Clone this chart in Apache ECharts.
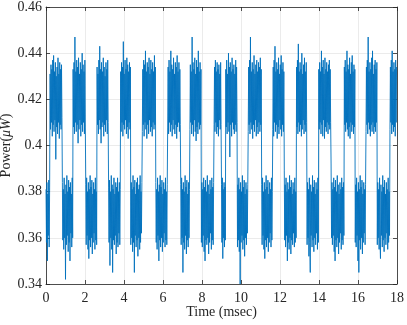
<!DOCTYPE html>
<html>
<head>
<meta charset="utf-8">
<script src="https://cdn.jsdelivr.net/npm/echarts@6/dist/echarts.min.js"></script>
<style>
  html, body { margin: 0; padding: 0; background: #fff; }
  #chart { width: 407px; height: 325px; }
</style>
</head>
<body>
<div id="chart"></div>
<script>
// block boundaries (msec): low / high levels alternate, starting low
const edges = [0, 0.21, 0.84, 1.39, 2.04, 2.62, 3.21, 3.83, 4.35, 4.94, 5.63, 6.24, 6.91, 7.38, 7.97,
  8.62, 9.00, 9.22, 9.82, 10.37, 11.06, 11.63, 12.22, 12.85, 13.39, 13.99, 14.62, 15.30, 15.86,
  16.41, 16.99, 17.64, 18];

const blocks = [
  [0.381, 0.358, 0.384, 0.350, 0.379, 0.361, 0.385, 0.356, 0.382],
  [0.431, 0.407, 0.435, 0.410, 0.433, 0.404, 0.437, 0.409, 0.439, 0.406, 0.432, 0.411, 0.436, 0.394, 0.430, 0.408, 0.434, 0.405, 0.438, 0.410, 0.431, 0.403, 0.436, 0.409, 0.433, 0.407, 0.435, 0.412],
  [0.384, 0.359, 0.381, 0.355, 0.386, 0.360, 0.379, 0.342, 0.383, 0.357, 0.387, 0.361, 0.380, 0.354, 0.385, 0.358, 0.382, 0.350, 0.384, 0.362, 0.379, 0.356, 0.386, 0.360],
  [0.433, 0.408, 0.436, 0.405, 0.447, 0.410, 0.432, 0.406, 0.437, 0.409, 0.434, 0.401, 0.438, 0.407, 0.431, 0.411, 0.436, 0.404, 0.433, 0.409, 0.440, 0.406, 0.435, 0.410, 0.432, 0.405, 0.437, 0.408],
  [0.383, 0.357, 0.386, 0.361, 0.380, 0.355, 0.384, 0.351, 0.381, 0.359, 0.387, 0.356, 0.382, 0.360, 0.385, 0.353, 0.379, 0.358, 0.384, 0.362, 0.381, 0.355, 0.386, 0.359, 0.380, 0.357],
  [0.434, 0.409, 0.431, 0.405, 0.437, 0.411, 0.443, 0.407, 0.433, 0.401, 0.436, 0.408, 0.432, 0.410, 0.438, 0.404, 0.434, 0.409, 0.430, 0.406, 0.436, 0.411, 0.433, 0.405, 0.437, 0.410],
  [0.382, 0.358, 0.385, 0.348, 0.380, 0.360, 0.387, 0.355, 0.383, 0.345, 0.381, 0.359, 0.386, 0.357, 0.379, 0.361, 0.384, 0.353, 0.382, 0.358, 0.386, 0.356, 0.380, 0.362, 0.384, 0.357, 0.381],
  [0.432, 0.406, 0.436, 0.410, 0.434, 0.404, 0.445, 0.409, 0.431, 0.407, 0.437, 0.411, 0.433, 0.405, 0.438, 0.408, 0.435, 0.403, 0.432, 0.410, 0.436, 0.407, 0.434],
  [0.357, 0.384, 0.360, 0.381, 0.354, 0.387, 0.358, 0.382, 0.345, 0.385, 0.361, 0.379, 0.356, 0.384, 0.359, 0.386, 0.352, 0.381, 0.360, 0.383, 0.355, 0.387, 0.358, 0.380, 0.362, 0.384],
  [0.406, 0.433, 0.409, 0.437, 0.404, 0.435, 0.410, 0.441, 0.407, 0.432, 0.403, 0.436, 0.409, 0.434, 0.405, 0.438, 0.411, 0.431, 0.406, 0.437, 0.408, 0.433, 0.404, 0.436, 0.410, 0.432, 0.407, 0.439, 0.409, 0.434],
  [0.384, 0.358, 0.381, 0.355, 0.386, 0.361, 0.380, 0.350, 0.383, 0.359, 0.387, 0.356, 0.382, 0.360, 0.385, 0.354, 0.379, 0.358, 0.384, 0.362, 0.381, 0.356, 0.386, 0.359, 0.380, 0.357, 0.383],
  [0.408, 0.434, 0.405, 0.437, 0.410, 0.432, 0.406, 0.441, 0.409, 0.435, 0.404, 0.433, 0.411, 0.438, 0.407, 0.431, 0.405, 0.436, 0.409, 0.434, 0.403, 0.439, 0.408, 0.432, 0.410, 0.436, 0.406, 0.433, 0.409],
  [0.383, 0.357, 0.386, 0.360, 0.381, 0.345, 0.384, 0.358, 0.380, 0.355, 0.387, 0.361, 0.382, 0.353, 0.385, 0.359, 0.379, 0.356, 0.384, 0.360, 0.381],
  [0.407, 0.435, 0.410, 0.432, 0.405, 0.447, 0.409, 0.436, 0.404, 0.433, 0.411, 0.438, 0.406, 0.431, 0.402, 0.437, 0.408, 0.434, 0.405, 0.441, 0.410, 0.432, 0.407, 0.436, 0.409, 0.433],
  [0.358, 0.384, 0.356, 0.381, 0.361, 0.386, 0.354, 0.382, 0.350, 0.385, 0.359, 0.380, 0.357, 0.387, 0.360, 0.383, 0.353, 0.379, 0.358, 0.385, 0.362, 0.381, 0.355, 0.386, 0.359, 0.382, 0.357, 0.384],
  [0.409, 0.434, 0.406, 0.437, 0.410, 0.432, 0.405, 0.436, 0.408, 0.433, 0.404, 0.435, 0.411, 0.431, 0.407, 0.436, 0.409],
  [0.383, 0.358, 0.386, 0.351, 0.381, 0.360, 0.384, 0.356, 0.382, 0.359],
  [0.433, 0.408, 0.437, 0.405, 0.431, 0.410, 0.440, 0.406, 0.434, 0.395, 0.436, 0.409, 0.432, 0.404, 0.438, 0.410, 0.433, 0.407, 0.435, 0.405, 0.431, 0.409, 0.437, 0.406, 0.434, 0.410],
  [0.356, 0.383, 0.359, 0.386, 0.354, 0.381, 0.340, 0.384, 0.358, 0.380, 0.361, 0.387, 0.355, 0.382, 0.359, 0.385, 0.352, 0.379, 0.360, 0.384, 0.357, 0.381, 0.362, 0.383],
  [0.406, 0.434, 0.409, 0.437, 0.405, 0.447, 0.410, 0.432, 0.407, 0.436, 0.403, 0.433, 0.409, 0.439, 0.406, 0.431, 0.411, 0.435, 0.404, 0.437, 0.408, 0.432, 0.405, 0.436, 0.410, 0.434, 0.406, 0.438, 0.409, 0.433],
  [0.383, 0.357, 0.386, 0.361, 0.380, 0.355, 0.384, 0.351, 0.381, 0.359, 0.387, 0.356, 0.382, 0.360, 0.385, 0.354, 0.379, 0.358, 0.384, 0.362, 0.381, 0.356, 0.386, 0.359, 0.380],
  [0.407, 0.434, 0.404, 0.437, 0.410, 0.443, 0.406, 0.432, 0.409, 0.436, 0.403, 0.433, 0.408, 0.438, 0.405, 0.431, 0.411, 0.435, 0.407, 0.439, 0.404, 0.433, 0.409, 0.436, 0.406, 0.432],
  [0.389, 0.359, 0.383, 0.356, 0.386, 0.361, 0.380, 0.350, 0.384, 0.358, 0.381, 0.355, 0.387, 0.360, 0.382, 0.353, 0.385, 0.359, 0.379, 0.357, 0.384, 0.362, 0.381, 0.356, 0.386, 0.358, 0.380, 0.360],
  [0.434, 0.408, 0.437, 0.405, 0.444, 0.410, 0.432, 0.406, 0.436, 0.409, 0.433, 0.404, 0.440, 0.407, 0.431, 0.411, 0.435, 0.405, 0.438, 0.409, 0.432, 0.406, 0.436, 0.410],
  [0.357, 0.384, 0.360, 0.381, 0.352, 0.386, 0.358, 0.345, 0.383, 0.361, 0.380, 0.356, 0.387, 0.359, 0.382, 0.354, 0.385, 0.360, 0.379, 0.357, 0.384, 0.362, 0.381, 0.355, 0.386, 0.358],
  [0.433, 0.407, 0.436, 0.410, 0.432, 0.405, 0.441, 0.409, 0.434, 0.404, 0.437, 0.411, 0.431, 0.403, 0.438, 0.408, 0.433, 0.406, 0.436, 0.410, 0.432, 0.405, 0.435, 0.409, 0.437, 0.407, 0.433, 0.410],
  [0.392, 0.360, 0.384, 0.357, 0.381, 0.361, 0.386, 0.354, 0.382, 0.350, 0.385, 0.359, 0.380, 0.356, 0.387, 0.360, 0.383, 0.353, 0.379, 0.358, 0.384, 0.362, 0.381, 0.355, 0.386, 0.359, 0.382, 0.357, 0.384, 0.361],
  [0.434, 0.409, 0.437, 0.406, 0.432, 0.410, 0.441, 0.407, 0.435, 0.404, 0.433, 0.408, 0.438, 0.403, 0.431, 0.410, 0.436, 0.406, 0.439, 0.409, 0.432, 0.405, 0.435, 0.408, 0.433],
  [0.358, 0.383, 0.356, 0.386, 0.361, 0.380, 0.350, 0.384, 0.345, 0.381, 0.359, 0.387, 0.355, 0.382, 0.360, 0.385, 0.353, 0.379, 0.358, 0.384, 0.362, 0.381, 0.357, 0.383],
  [0.406, 0.434, 0.409, 0.437, 0.405, 0.447, 0.410, 0.432, 0.407, 0.436, 0.404, 0.433, 0.409, 0.438, 0.406, 0.441, 0.410, 0.431, 0.405, 0.435, 0.408, 0.437, 0.406, 0.433, 0.410, 0.436],
  [0.357, 0.384, 0.360, 0.381, 0.355, 0.386, 0.358, 0.351, 0.383, 0.361, 0.380, 0.356, 0.387, 0.359, 0.382, 0.354, 0.385, 0.360, 0.379, 0.357, 0.384, 0.362, 0.381, 0.355, 0.386, 0.358, 0.380, 0.361],
  [0.407, 0.434, 0.410, 0.437, 0.405, 0.441, 0.409, 0.432, 0.406, 0.436, 0.408, 0.433, 0.404, 0.437, 0.410, 0.434]
];

const xTicks = [0, 2, 4, 6, 8, 10, 12, 14, 16, 18];
const yTicks = [0.34, 0.36, 0.38, 0.4, 0.42, 0.44, 0.46];
const yTickLabels = ['0.34', '0.36', '0.38', '0.4', '0.42', '0.44', '0.46'];

// samples are evenly spaced in time inside each block
const points = [];
blocks.forEach((vals, i) => {
  const t0 = edges[i], t1 = edges[i + 1];
  vals.forEach((v, j) => {
    points.push([t0 + (t1 - t0) * j / vals.length, v]);
  });
});

const axisColor = '#262626';
const font = 'Liberation Serif';

const baseX = {
  type: 'value', min: xTicks[0], max: xTicks[xTicks.length - 1], interval: 2,
  axisLine: { onZero: false, lineStyle: { color: axisColor, width: 0.8 } },
  axisTick: { inside: true, length: 4, lineStyle: { color: axisColor, width: 0.8 } }
};
const baseY = {
  type: 'value', min: yTicks[0], max: yTicks[yTicks.length - 1], interval: 0.02,
  axisLine: { onZero: false, lineStyle: { color: axisColor, width: 0.8 } },
  axisTick: { inside: true, length: 4, lineStyle: { color: axisColor, width: 0.8 } }
};

const chart = echarts.init(document.getElementById('chart'), null, { renderer: 'canvas' });
chart.setOption({
  animation: false,
  grid: { left: 46, right: 10, top: 7, bottom: 41, containLabel: false, outerBoundsMode: 'none' },
  xAxis: [
    Object.assign({}, baseX, {
      position: 'bottom',
      axisLabel: { fontFamily: font, fontSize: 14, color: axisColor, margin: 7 },
      splitLine: { show: true, lineStyle: { color: '#e6e6e6', width: 0.8 } },
      name: 'Time (msec)', nameLocation: 'middle', nameGap: 21, nameMoveOverlap: false,
      nameTextStyle: { fontFamily: font, fontSize: 14, color: axisColor }
    }),
    Object.assign({}, baseX, {
      position: 'top',
      axisLabel: { show: false },
      splitLine: { show: false }
    })
  ],
  yAxis: [
    Object.assign({}, baseY, {
      position: 'left',
      axisLabel: {
        fontFamily: font, fontSize: 14, color: axisColor, margin: 4,
        formatter: v => yTickLabels[yTicks.findIndex(t => Math.abs(t - v) < 1e-9)] || ''
      },
      splitLine: { show: true, lineStyle: { color: '#e6e6e6', width: 0.8 } },
      name: '{n|Power(}{i|μW}{n|)}', nameLocation: 'middle', nameGap: 33, nameMoveOverlap: false,
      nameTextStyle: {
        fontFamily: font, fontSize: 14, color: axisColor,
        rich: {
          n: { fontFamily: font, fontSize: 14, color: axisColor },
          i: { fontFamily: font, fontSize: 14, color: axisColor, fontStyle: 'italic' }
        }
      }
    }),
    Object.assign({}, baseY, {
      position: 'right',
      axisLabel: { show: false },
      splitLine: { show: false }
    })
  ],
  series: [{
    type: 'line',
    data: points,
    showSymbol: false,
    symbol: 'none',
    lineStyle: { color: '#0072BD', width: 0.9 },
    silent: true
  }]
});
</script>
</body>
</html>
